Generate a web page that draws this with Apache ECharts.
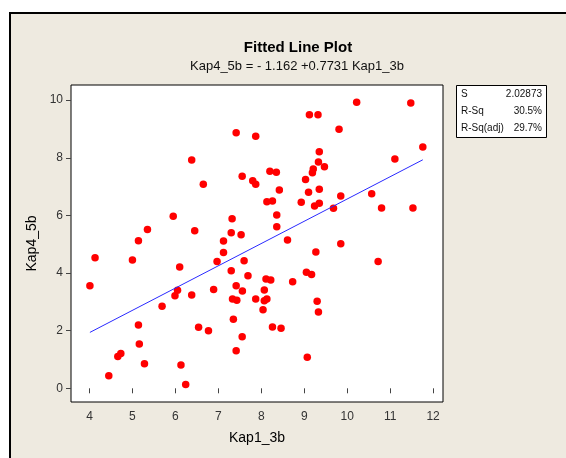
<!DOCTYPE html>
<html><head><meta charset="utf-8">
<script src="https://cdn.jsdelivr.net/npm/echarts@6/dist/echarts.min.js"></script>
<style>html,body{margin:0;padding:0;background:#fff}#c{width:566px;height:458px}</style>
</head><body><div id="c"></div>
<script>
// Data
const kap1_3b = [4.01,4.13,4.45,4.66,4.73,5.00,5.14,5.14,5.16,5.28,5.35,5.69,5.95,5.99,6.05,6.10,6.13,6.24,6.38,6.38,
  6.45,6.54,6.65,6.77,6.89,6.97,7.12,7.12,7.30,7.30,7.32,7.33,7.35,7.415,7.415,7.415,7.43,7.53,7.555,7.56,
  7.555,7.60,7.69,7.80,7.87,7.87,7.87,8.04,8.07,8.07,8.11,8.13,8.13,8.20,8.22,8.26,8.26,8.35,8.36,8.36,
  8.42,8.46,8.61,8.73,8.93,9.03,9.05,9.07,9.10,9.12,9.17,9.19,9.21,9.24,9.27,9.30,9.32,9.33,9.33,9.35,
  9.35,9.35,9.47,9.68,9.81,9.85,9.85,10.22,10.57,10.72,10.80,11.11,11.48,11.53,11.76];
const kap4_5b = [3.56,4.53,0.44,1.10,1.21,4.45,5.12,2.20,1.54,0.85,5.51,2.85,5.97,3.21,3.40,4.21,0.81,0.13,7.92,3.24,
  5.47,2.12,7.08,2.00,3.43,4.40,5.11,4.71,5.40,4.08,5.88,3.10,2.40,8.87,3.56,1.30,3.06,5.33,7.36,3.38,
  1.79,4.43,3.91,7.20,8.75,7.08,3.10,2.73,3.41,3.04,3.79,3.10,6.47,7.53,3.76,6.50,2.13,7.50,6.01,5.61,
  6.88,2.08,5.15,3.70,6.46,7.25,4.03,1.08,6.80,9.49,3.95,7.48,7.61,6.33,4.73,3.02,9.49,7.85,2.65,8.21,
  6.91,6.42,7.69,6.25,8.99,6.67,5.02,9.93,6.75,4.40,6.26,7.96,9.90,6.26,8.37];
const fitX = [4.01, 11.76];
const fitY = [1.94, 7.93];
const xTicks = [4,5,6,7,8,9,10,11,12];
const yTicks = [0,2,4,6,8,10];
const statLabels = ['S','R-Sq','R-Sq(adj)'];
const statValues = ['2.02873','30.5%','29.7%'];
const titleText = 'Fitted Line Plot';
const subtitleText = 'Kap4_5b = - 1.162 +0.7731 Kap1_3b';
const xName = 'Kap1_3b';
const yName = 'Kap4_5b';

const FONT = '"Liberation Sans", Arial, sans-serif';
const chart = echarts.init(document.getElementById('c'), null, {renderer:'canvas'});

const statGraphics = [];
const boxL = 456, boxT = 85, boxW = 90, boxH = 52, rowH = 17;
statGraphics.push({type:'rect', shape:{x:boxL+0.5,y:boxT+0.5,width:boxW,height:boxH},
  style:{fill:'#fff',stroke:'#000',lineWidth:1}, z:10});
statLabels.forEach((s,i)=>{
  statGraphics.push({type:'text', x:boxL+5, y:boxT+9+i*rowH, z:11,
    style:{text:s, fill:'#111', font:'10px '+FONT, textVerticalAlign:'middle', textAlign:'left'}});
  statGraphics.push({type:'text', x:boxL+boxW-4, y:boxT+9+i*rowH, z:11,
    style:{text:statValues[i], fill:'#111', font:'10px '+FONT, textVerticalAlign:'middle', textAlign:'right'}});
});

const option = {
  animation:false,
  backgroundColor:'#ffffff',
  title:[
    {text:titleText, left:293, top:35, textAlign:'center',
      textStyle:{fontFamily:FONT, fontSize:15, fontWeight:'bold', color:'#000'}},
    {text:subtitleText, left:292, top:55, textAlign:'center',
      textStyle:{fontFamily:FONT, fontSize:13, fontWeight:'normal', color:'#111'}}
  ],
  graphic:[
    {type:'rect', shape:{x:10,y:13,width:620,height:520}, style:{fill:'#EEEAE0',stroke:'#000',lineWidth:2}, z:-10, silent:true},
    ...statGraphics
  ],
  grid:{left:71, top:85, width:372, height:317, show:true, backgroundColor:'#fff', borderColor:'#000', borderWidth:1, containLabel:false},
  xAxis:{type:'value', min:3.57, max:12.23,
    axisLine:{show:false}, splitLine:{show:false},
    axisTick:{show:true, length:5, customValues:xTicks, lineStyle:{color:'#444'}},
    axisLabel:{customValues:xTicks, margin:9, fontFamily:FONT, fontSize:12, color:'#333'},
    name:xName, nameLocation:'middle', nameGap:29,
    nameTextStyle:{fontFamily:FONT, fontSize:14, color:'#000'}},
  yAxis:{type:'value', min:-0.475, max:10.525,
    axisLine:{show:false}, splitLine:{show:false},
    axisTick:{show:true, length:5, customValues:yTicks, lineStyle:{color:'#444'}},
    axisLabel:{customValues:yTicks, margin:8, fontFamily:FONT, fontSize:12, color:'#333'},
    name:yName, nameLocation:'middle', nameGap:31,
    nameTextStyle:{fontFamily:FONT, fontSize:14, color:'#000'}},
  series:[
    {type:'scatter', data:kap1_3b.map((x,i)=>[x,kap4_5b[i]]), symbol:'circle', symbolSize:7.5,
      itemStyle:{color:'#FF0000', opacity:1}},
    {type:'line', data:fitX.map((x,i)=>[x,fitY[i]]), symbol:'none', lineStyle:{color:'#2a2aff', width:1}, z:3}
  ]
};
chart.setOption(option);
</script>
</body></html>
